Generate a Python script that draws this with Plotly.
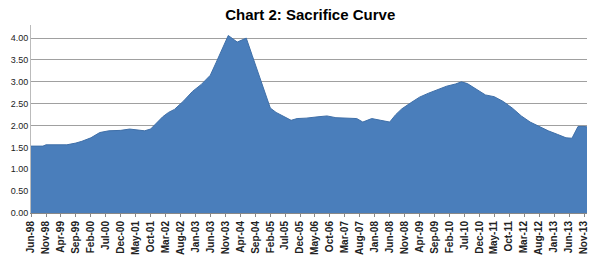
import plotly.graph_objects as go

# month offsets from Jun-1998 and sacrifice ratio values
months = [0, 4, 5, 12, 15, 17, 20, 23, 26, 30, 33, 36, 38, 40, 42, 44, 46, 48, 51, 54,
          57, 60, 62, 65, 66, 69, 72, 74, 76, 78, 80, 82, 85, 87, 89, 92, 96, 99, 102,
          106, 109, 111, 114, 117, 120, 122, 124, 127, 130, 133, 136, 139, 142, 144, 146,
          149, 152, 155, 158, 161, 164, 167, 170, 173, 176, 179, 181, 183, 185, 186]
values = [1.53, 1.53, 1.56, 1.56, 1.60, 1.64, 1.72, 1.84, 1.88, 1.89, 1.92, 1.90, 1.88,
          1.92, 2.05, 2.20, 2.30, 2.37, 2.56, 2.78, 2.94, 3.15, 3.45, 3.90, 4.06, 3.91,
          4.00, 3.60, 3.20, 2.80, 2.40, 2.30, 2.20, 2.12, 2.16, 2.17, 2.20, 2.22, 2.18,
          2.17, 2.16, 2.08, 2.16, 2.12, 2.08, 2.25, 2.38, 2.52, 2.65, 2.74, 2.82, 2.90,
          2.95, 3.00, 2.96, 2.82, 2.70, 2.66, 2.55, 2.40, 2.22, 2.08, 1.98, 1.88, 1.80,
          1.72, 1.71, 1.98, 1.98, 1.97]

def to_date(m):
    y = 1998 + (5 + m) // 12
    mo = (5 + m) % 12 + 1
    return f"{y:04d}-{mo:02d}-01"

dates = [to_date(m) for m in months]

fig = go.Figure()
fig.add_trace(go.Scatter(
    x=dates, y=values, mode="lines", fill="tozeroy",
    line=dict(color="#3f6fa8", width=1),
    fillcolor="#4a7ebb", hoverinfo="skip", showlegend=False,
))

fig.update_layout(
    width=600, height=272,
    margin=dict(l=31, r=11, t=25, b=59),
    paper_bgcolor="white", plot_bgcolor="white",
    title=dict(text="<b>Chart 2: Sacrifice Curve</b>", x=0.517, xanchor="center",
               y=0.945, yanchor="middle",
               font=dict(family="Liberation Sans, Arial", size=15, color="#000")),
    xaxis=dict(
        type="date", range=["1998-06-01", "2013-12-01"],
        tick0="1998-06-01", dtick="M5", tickformat="<b>%b-%y</b>",
        tickangle=-90, ticks="outside", ticklen=3, tickcolor="#888",
        tickfont=dict(family="Liberation Sans, Arial", size=10, color="#222"),
        showgrid=False, showline=True, linecolor="#888", linewidth=1,
        zeroline=False,
    ),
    yaxis=dict(
        range=[0, 4.3], tickvals=[0, 0.5, 1, 1.5, 2, 2.5, 3, 3.5, 4],
        tickformat=".2f", ticks="", showgrid=True, gridcolor="#a0a0a0", gridwidth=1,
        showline=True, linecolor="#bbb", linewidth=1, zeroline=False,
        tickfont=dict(family="Liberation Sans, Arial", size=9, color="#222"),
    ),
)

fig.write_html("out.html")
